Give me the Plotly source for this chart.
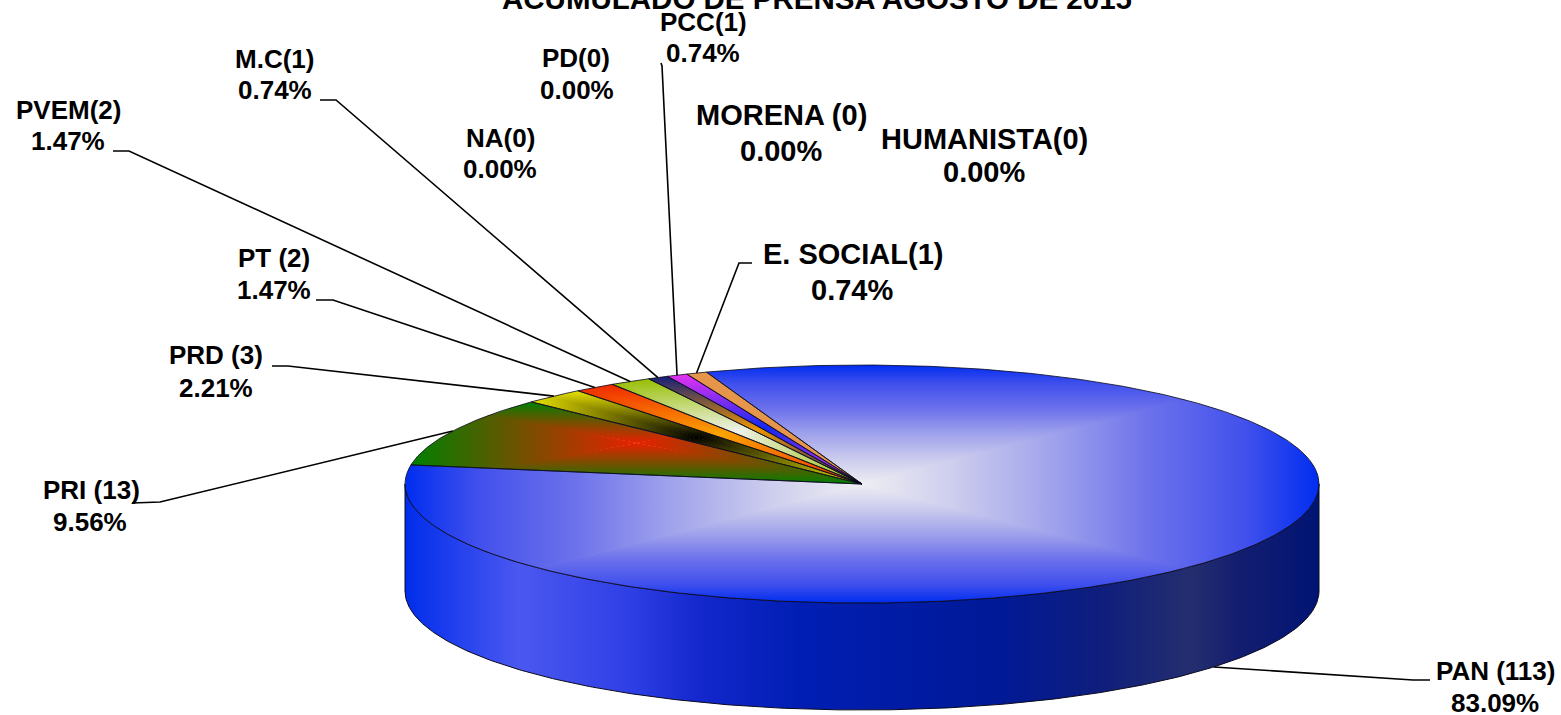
import math
import plotly.graph_objects as go

# ---- data ----
categories = ["PAN", "PRI", "PRD", "PT", "PVEM", "M.C", "NA", "PD", "PCC", "MORENA", "HUMANISTA", "E. SOCIAL"]
values = [113, 13, 3, 2, 2, 1, 0, 0, 1, 0, 0, 1]
name_labels = ["PAN (113)", "PRI (13)", "PRD (3)", "PT (2)", "PVEM(2)", "M.C(1)", "NA(0)", "PD(0)",
               "PCC(1)", "MORENA (0)", "HUMANISTA(0)", "E. SOCIAL(1)"]
title_text = "ACUMULADO DE PRENSA AGOSTO DE 2015"

# ---- styling: (rim colour, centre colour) per slice ----
slice_colors = [
    ("rgb(0,45,240)", "rgb(238,238,242)"),
    ("rgb(0,128,0)", "rgb(232,32,0)"),
    ("rgb(232,226,0)", "rgb(0,0,0)"),
    ("rgb(240,40,0)", "rgb(250,165,0)"),
    ("rgb(150,190,0)", "rgb(240,242,235)"),
    ("rgb(20,30,120)", "rgb(240,150,0)"),
    ("rgb(128,128,128)", "rgb(128,128,128)"),
    ("rgb(128,128,128)", "rgb(128,128,128)"),
    ("rgb(232,50,240)", "rgb(15,40,240)"),
    ("rgb(128,128,128)", "rgb(128,128,128)"),
    ("rgb(128,128,128)", "rgb(128,128,128)"),
    ("rgb(230,150,75)", "rgb(230,150,75)"),
]
# rim-to-centre ramp of the large slice: (fraction of the way to the centre, colour)
large_slice_ramp = [
    (0.0, "rgb(0,45,240)"), (0.16, "rgb(65,80,236)"), (0.38, "rgb(110,115,235)"),
    (0.56, "rgb(155,158,235)"), (0.8, "rgb(205,205,238)"), (1.0, "rgb(238,238,242)"),
]
wall_scale = [
    [0.0, "rgb(0,45,235)"], [0.125, "rgb(75,88,240)"], [0.25, "rgb(45,62,228)"],
    [0.32, "rgb(20,40,205)"], [0.43, "rgb(0,30,180)"], [0.65, "rgb(0,25,150)"],
    [0.76, "rgb(15,30,125)"], [0.86, "rgb(36,46,110)"], [0.91, "rgb(20,30,112)"],
    [1.0, "rgb(0,20,115)"],
]

# ---- pie geometry in page pixels ----
CX, CY, RX, RY, DEPTH = 862, 484, 457, 119, 107
START_DEG = 109.9   # where the first slice begins; slices run clockwise

# label placement: (x, y of name line, x, y of percent line, font size)
label_layout = [
    (1495, 671, 1495, 703, 26), (91, 490, 90, 522, 26), (216, 355, 216, 388, 26),
    (274, 258, 274, 290, 26), (68, 110, 68, 141, 26), (274, 59, 275, 90, 26),
    (500, 138, 500, 169, 26), (576, 58, 577, 90, 26), (703, 22, 703, 53, 26),
    (781, 115, 781, 151, 29), (984, 139, 984, 172, 29), (853, 254, 852, 290, 29),
]
# leader: label-side end, elbow (None when the slice has no leader)
leader_layout = [
    ((1430, 680), (1413, 680)), ((132, 503), (160, 502)), ((272, 366), (288, 366)),
    ((316, 300), (333, 300)), ((113, 151), (129, 151)), ((320, 100), (336, 100)),
    None, None, ((661, 63), (662, 66)), None, None, ((752, 263), (739, 263)),
]


def rim(deg, drop=0.0):
    a = math.radians(deg)
    return CX + RX * math.cos(a), CY - RY * math.sin(a) + drop


def arc(a0, a1, drop=0.0):
    n = max(2, int(abs(a1 - a0) * 2) + 2)
    return [rim(a0 + (a1 - a0) * i / (n - 1), drop) for i in range(n)]


def clip(poly, a, b, inside):
    """Sutherland-Hodgman against the half plane through a-b holding point `inside`."""
    def side(p):
        return (b[0] - a[0]) * (p[1] - a[1]) - (b[1] - a[1]) * (p[0] - a[0])
    s0 = side(inside)
    out = []
    for i, p in enumerate(poly):
        q = poly[(i + 1) % len(poly)]
        sp, sq = side(p) * s0, side(q) * s0
        if sp >= 0:
            out.append(p)
        if (sp >= 0) != (sq >= 0):
            t = sp / (sp - sq)
            out.append((p[0] + (q[0] - p[0]) * t, p[1] + (q[1] - p[1]) * t))
    return out


def add_poly(fig, poly, gradient=None, color=None):
    xs = [p[0] for p in poly] + [poly[0][0]]
    ys = [p[1] for p in poly] + [poly[0][1]]
    kw = dict(fillgradient=gradient) if gradient else dict(fillcolor=color)
    fig.add_trace(go.Scatter(x=xs, y=ys, mode="lines", fill="toself", line=dict(width=0),
                             hoverinfo="skip", showlegend=False, **kw))


def add_outline(fig, poly, close=True, width=1.0, color="rgb(10,10,30)"):
    xs = [p[0] for p in poly] + ([poly[0][0]] if close else [])
    ys = [p[1] for p in poly] + ([poly[0][1]] if close else [])
    fig.add_trace(go.Scatter(x=xs, y=ys, mode="lines", line=dict(width=width, color=color),
                             hoverinfo="skip", showlegend=False))


def add_box_gradient_slice(fig, poly, scale):
    """Rectangular 'from centre' gradient: four triangles of the bounding box, each a linear ramp.
    The left/right pieces are painted first and run a little past the diagonals, which hides seams."""
    xs, ys = [p[0] for p in poly], [p[1] for p in poly]
    x0, x1, y0, y1 = min(xs), max(xs), min(ys), max(ys)
    mx, my = (x0 + x1) / 2, (y0 + y1) / 2
    e = 1.5
    pieces = [
        ("horizontal", [(x0, y0 - e), (x0, y1 + e), (mx + e, my)]),
        ("horizontal", [(x1, y0 - e), (x1, y1 + e), (mx - e, my)]),
        ("vertical", [(x0, y0), (x1, y0), (mx, my)]),
        ("vertical", [(x0, y1), (x1, y1), (mx, my)]),
    ]
    for orient, tri in pieces:
        piece = poly
        for k in range(3):
            if len(piece) < 3:
                break
            piece = clip(piece, tri[k], tri[(k + 1) % 3], tri[(k + 2) % 3])
        if len(piece) >= 3:
            lo, hi = (y0, y1) if orient == "vertical" else (x0, x1)
            add_poly(fig, piece, gradient=dict(type=orient, colorscale=scale, start=lo, stop=hi))


def mirrored_scale(ramp):
    left = [[t / 2, c] for t, c in ramp]
    right = [[1 - t / 2, c] for t, c in reversed(ramp[:-1])]
    return left + right


total = sum(values)
fig = go.Figure()

# side wall of the slice that crosses the front of the pie
wall = arc(0, -180) + arc(-180, 0, DEPTH)
add_poly(fig, wall, gradient=dict(type="horizontal", colorscale=wall_scale, start=CX - RX, stop=CX + RX))
add_outline(fig, wall)

angle = START_DEG
mids = []
outlines = []
for i, (v, (rim_c, mid_c)) in enumerate(zip(values, slice_colors)):
    sweep = v / total * 360
    mids.append(angle - sweep / 2)
    if v > 0:
        poly = [(CX, CY)] + arc(angle, angle - sweep)
        if rim_c == mid_c:
            add_poly(fig, poly, color=rim_c)
        else:
            ramp = large_slice_ramp if i == 0 else [(0.0, rim_c), (1.0, mid_c)]
            add_box_gradient_slice(fig, poly, mirrored_scale(ramp))
        outlines.append(poly)
    angle -= sweep
for poly in outlines:
    add_outline(fig, poly, width=0.8)

# leaders
for i, leader in enumerate(leader_layout):
    if leader is None:
        continue
    # the first slice's leader lands on the lower edge of the wall
    end = rim(mids[i], DEPTH if math.sin(math.radians(mids[i])) < 0 else 0)
    pts = [leader[0], leader[1], end]
    fig.add_trace(go.Scatter(x=[p[0] for p in pts], y=[p[1] for p in pts], mode="lines",
                             line=dict(color="black", width=1.6), hoverinfo="skip", showlegend=False))

FONT = "Liberation Sans, Arial, sans-serif"
annotations = [dict(x=817, y=16, text=f"<b>{title_text}</b>", showarrow=False, xanchor="center",
                    yanchor="bottom", font=dict(family=FONT, size=29.5, color="black"), borderpad=0)]
for name, v, (nx, ny, px, py, size) in zip(name_labels, values, label_layout):
    for x, y, text in ((nx, ny, name), (px, py, f"{v / total * 100:.2f}%")):
        annotations.append(dict(x=x, y=y, text=f"<b>{text}</b>", showarrow=False, xanchor="center",
                                yanchor="middle", font=dict(family=FONT, size=size, color="black"), borderpad=0))

fig.update_layout(
    width=1561, height=715, margin=dict(l=0, r=0, t=0, b=0),
    paper_bgcolor="white", plot_bgcolor="white", showlegend=False,
    xaxis=dict(range=[0, 1561], visible=False, fixedrange=True),
    yaxis=dict(range=[715, 0], visible=False, fixedrange=True),
    annotations=annotations,
)
fig.write_html("out.html", config={"displayModeBar": False}, post_script="document.body.style.margin='0';")
